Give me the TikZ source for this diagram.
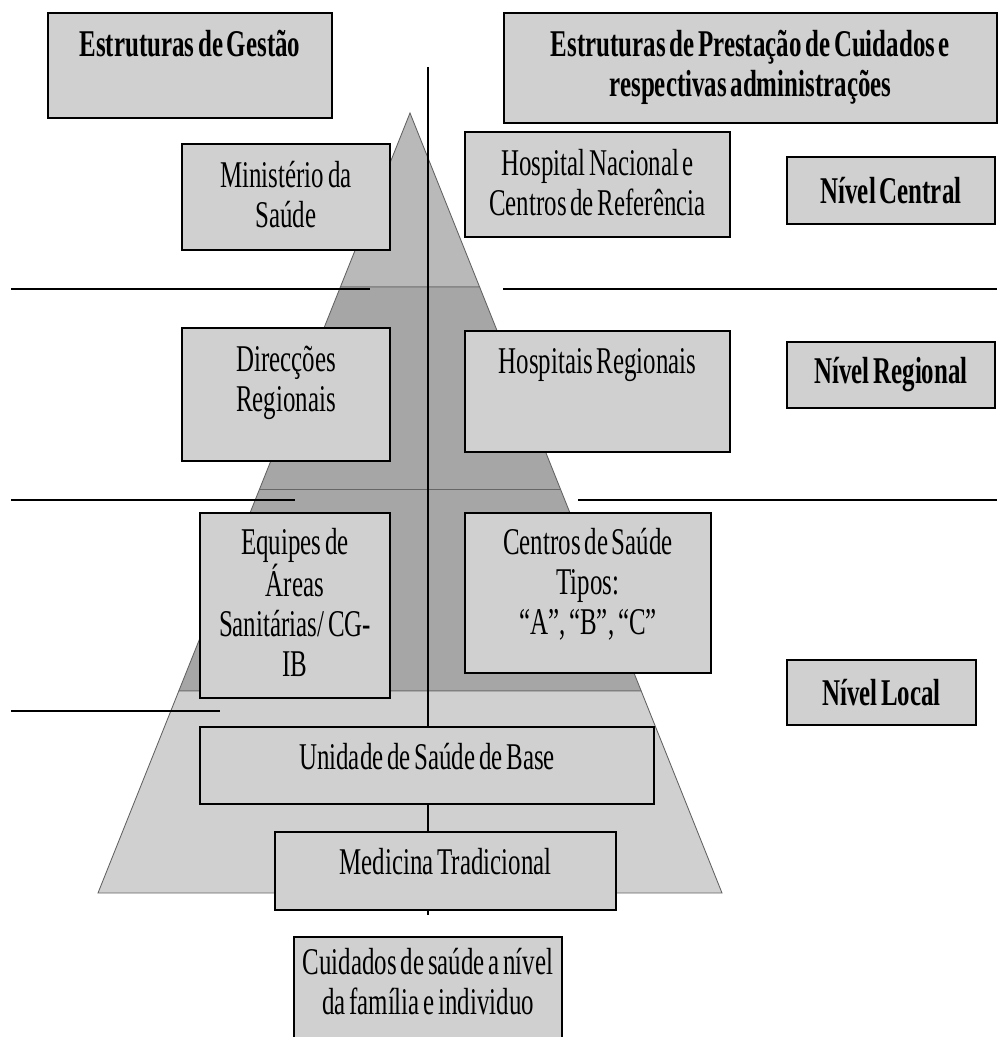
\documentclass[tikz,border=0pt]{standalone}
\usepackage{fontspec}
\setmainfont{Liberation Serif}[FakeStretch=0.66,WordSpace=0.6]
\usetikzlibrary{positioning}
\definecolor{boxgray}{RGB}{208,208,208}
\definecolor{pyrmid}{RGB}{185,185,185}
\definecolor{pyrdark}{RGB}{166,166,166}
\begin{document}
\begin{tikzpicture}[x=0.02cm,y=-0.02cm]
        \tikzstyle{levelbox}=[draw=black,line width=1pt,fill=boxgray,inner sep=0]
        \tikzstyle{txt}=[inner sep=0,align=center,font=\fontsize{21.5}{22.7}\selectfont]
        \tikzstyle{bold}=[font=\fontsize{21.5}{22.7}\selectfont\bfseries]
        \tikzstyle{layer}=[draw=black!60,line width=0.5pt]
        \tikzstyle{sep}=[draw=black,line width=1pt]
        \clip (0,0) rectangle (1000,1037);

        % pyramid
        \filldraw[layer,fill=pyrmid] (410,113) -- (340.4,287) -- (479.6,287) -- cycle;
        \filldraw[layer,fill=pyrdark] (340.4,287) -- (178.8,691) -- (641.2,691) -- (479.6,287) -- cycle;
        \draw[layer] (259.6,489) -- (560.4,489);
        \filldraw[layer,fill=boxgray] (178.8,691) -- (98,893) -- (722,893) -- (641.2,691) -- cycle;

        \coordinate (axtop) at (428,67);
        \coordinate (axbot) at (428,915);
        \draw[black,line width=0.7pt] (axtop) -- (axbot);

        % level separators
        \foreach \y/\a/\b in {289/370/503, 500/295/578} {
          \draw[sep] (11,\y) -- (\a,\y);
          \draw[sep] (\b,\y) -- (997,\y);
        }
        \draw[sep] (11,711) -- (220,711);

        % headings
        \node [levelbox,minimum width=5.68cm,minimum height=2.10cm] (gestao) at (190,65.5) {};
        \node [txt,bold,below=0.36cm of gestao.north] (gestaotxt) {Estruturas de Gestão};
        \node [levelbox,minimum width=9.86cm,minimum height=2.20cm] (prest) at (750.5,68) {};
        \node [txt,bold,below=0.36cm of prest.north] (presttxt) {Estruturas de Prestação de Cuidados e\\respectivas administrações};

        % central level
        \node [levelbox,minimum width=4.16cm,minimum height=2.12cm] (min) at (286,197) {};
        \node [txt,below=0.36cm of min.north] (mintxt) {Ministério da\\Saúde};
        \node [levelbox,minimum width=5.30cm,minimum height=2.10cm] (hnac) at (597.5,184.5) {};
        \node [txt,below=0.36cm of hnac.north] (hnactxt) {Hospital Nacional e\\Centros de Referência};
        \node [levelbox,txt,bold,minimum width=4.16cm,minimum height=1.34cm] (nivc) at (891,190.5) {Nível Central};

        % regional level
        \node [levelbox,minimum width=4.16cm,minimum height=2.66cm] (dir) at (286,394.5) {};
        \node [txt,below=0.38cm of dir.north] (dirtxt) {Direcções\\Regionais};
        \node [levelbox,minimum width=5.30cm,minimum height=2.42cm] (hreg) at (597.5,391.5) {};
        \node [txt,below=0.36cm of hreg.north] (hregtxt) {Hospitais Regionais};
        \node [levelbox,txt,bold,minimum width=4.16cm,minimum height=1.32cm] (nivr) at (891,375) {Nível Regional};

        % local level
        \node [levelbox,minimum width=3.80cm,minimum height=3.70cm] (equ) at (295,605.5) {};
        \node [txt,below=0.32cm of equ.north] (equtxt) {Equipes de\\Áreas\\Sanitárias/ CG-\\IB};
        \node [levelbox,minimum width=4.92cm,minimum height=3.20cm] (cent) at (588,593) {};
        \node [txt,below=0.32cm of cent.north] (centtxt) {Centros de Saúde\\Tipos:\\“A”, “B”, “C”};
        \node [levelbox,txt,bold,minimum width=3.78cm,minimum height=1.30cm] (nivl) at (881.5,692.5) {Nível Local};

        \node [levelbox,minimum width=9.08cm,minimum height=1.54cm] (unid) at (427,765.5) {};
        \node [txt,below=0.34cm of unid.north] (unidtxt) {Unidade de Saúde de Base};
        \node [levelbox,minimum width=6.82cm,minimum height=1.56cm] (med) at (445.5,871) {};
        \node [txt,below=0.34cm of med.north] (medtxt) {Medicina Tradicional};
        \node [levelbox,minimum width=5.36cm,minimum height=2.26cm] (cuid) at (428,993.5) {};
        \node [txt,below=0.24cm of cuid.north] (cuidtxt) {Cuidados de saúde a nível\\da família e individuo};
\end{tikzpicture}
\end{document}
